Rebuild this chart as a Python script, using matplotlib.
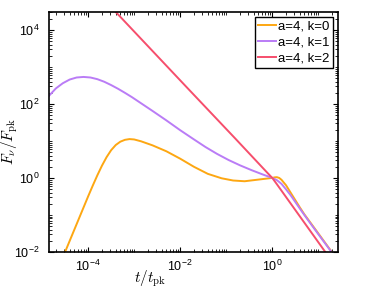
import numpy as np
import matplotlib
matplotlib.use("Agg")
import matplotlib.pyplot as plt
from matplotlib.ticker import LogLocator, FuncFormatter, NullFormatter

plt.rcParams['font.family'] = ['Liberation Sans', 'DejaVu Sans']
plt.rcParams['mathtext.fontset'] = 'cm'

# values, as log10(t/t_pk) and log10(F/F_pk)
logt_k0 = [-4.60, -4.40, -4.20, -4.00, -3.90, -3.80, -3.70, -3.60, -3.50, -3.40, -3.30,
           -3.20, -3.10, -3.00, -2.85, -2.60, -2.30, -2.00, -1.70, -1.40, -1.10, -0.85,
           -0.60, -0.40, -0.20, 0.00, 0.05, 0.10, 0.15, 0.20, 0.30, 0.40, 0.50, 0.60,
           0.70, 1.00, 1.35]
logF_k0 = [-2.30, -1.70, -1.10, -0.50, -0.21, 0.07, 0.33, 0.56, 0.75, 0.89, 0.98,
           1.03, 1.05, 1.04, 0.99, 0.88, 0.72, 0.52, 0.30, 0.11, -0.01, -0.07,
           -0.09, -0.06, -0.03, 0.00, 0.015, 0.02, 0.00, -0.05, -0.20, -0.40, -0.60, -0.80,
           -0.99, -1.50, -2.10]

logt_k1 = [-4.85, -4.70, -4.55, -4.40, -4.25, -4.10, -3.95, -3.80, -3.65, -3.50, -3.35,
           -3.20, -3.05, -2.90, -2.60, -2.30, -2.00, -1.70, -1.45, -1.20, -0.95, -0.70,
           -0.45, -0.20, 0.00, 0.10, 0.20, 0.30, 0.40, 0.50, 0.65, 0.80, 1.00, 1.35]
logF_k1 = [2.22, 2.42, 2.56, 2.66, 2.715, 2.73, 2.715, 2.67, 2.60, 2.51, 2.41,
           2.30, 2.185, 2.06, 1.81, 1.555, 1.29, 1.04, 0.835, 0.65, 0.485, 0.34,
           0.21, 0.09, 0.00, -0.06, -0.16, -0.31, -0.47, -0.65, -0.92, -1.18, -1.52, -2.11]

logt_k2 = [-3.60, -1.85, -0.80, -0.10, 0.00, 0.10, 1.30]
logF_k2 = [4.75, 2.44, 1.06, 0.13, 0.00, -0.17, -2.26]

labels = ['a=4, k=0', 'a=4, k=1', 'a=4, k=2']
colors = ['#FDA712', '#BA7CF6', '#F64E6C']

xmin, xmax = 10**-4.85, 10**1.43
ymin, ymax = 1e-2, 10**4.49
xticks = [1e-4, 1e-2, 1e0]
yticks = [1e-2, 1e0, 1e2, 1e4]

fig = plt.figure(figsize=(3.74, 2.96), dpi=100)
ax = fig.add_axes((0.131, 0.149, 0.773, 0.811))

curves = [(logt_k0, logF_k0), (logt_k1, logF_k1), (logt_k2, logF_k2)]
for (lt, lf), lab, c in zip(curves, labels, colors):
    ax.plot(10**np.array(lt), 10**np.array(lf), color=c, lw=1.4, label=lab)

ax.set_xscale('log')
ax.set_yscale('log')
ax.set_xlim(xmin, xmax)
ax.set_ylim(ymin, ymax)
ax.set_xticks(xticks)
ax.set_yticks(yticks)
ax.xaxis.set_minor_locator(LogLocator(base=10, subs=np.arange(1, 10), numticks=100))
ax.yaxis.set_minor_locator(LogLocator(base=10, subs=np.arange(1, 10), numticks=100))
ax.xaxis.set_minor_formatter(NullFormatter())
ax.yaxis.set_minor_formatter(NullFormatter())
fmt = FuncFormatter(lambda v, p: r'$\mathregular{10^{%d}}$' % round(np.log10(v)))
ax.xaxis.set_major_formatter(fmt)
ax.yaxis.set_major_formatter(fmt)

ax.tick_params(which='both', direction='in', top=True, right=True, labelsize=9)
ax.tick_params(which='major', length=3.5, width=0.8)
ax.tick_params(which='minor', length=2, width=0.6)
ax.tick_params(axis='x', pad=5)
ax.tick_params(axis='y', pad=7)
for s in ax.spines.values():
    s.set_linewidth(1.2)

ax.set_xlabel(r'$t/t_{\rm pk}$', fontsize=11)
ax.xaxis.set_label_coords(0.35, -0.07)
ax.set_ylabel(r'$F_\nu/F_{\rm pk}$', fontsize=11)
ax.yaxis.set_label_coords(-0.10, 0.46)

leg = ax.legend(loc='upper right', fontsize=9.5, frameon=True, fancybox=False,
                borderaxespad=0.38, handlelength=1.4, handletextpad=0.15,
                borderpad=0.25, labelspacing=0.3)
leg.get_frame().set_edgecolor('black')
leg.get_frame().set_linewidth(1.0)
leg.get_frame().set_alpha(1)

fig.savefig('out.png', dpi=100)
